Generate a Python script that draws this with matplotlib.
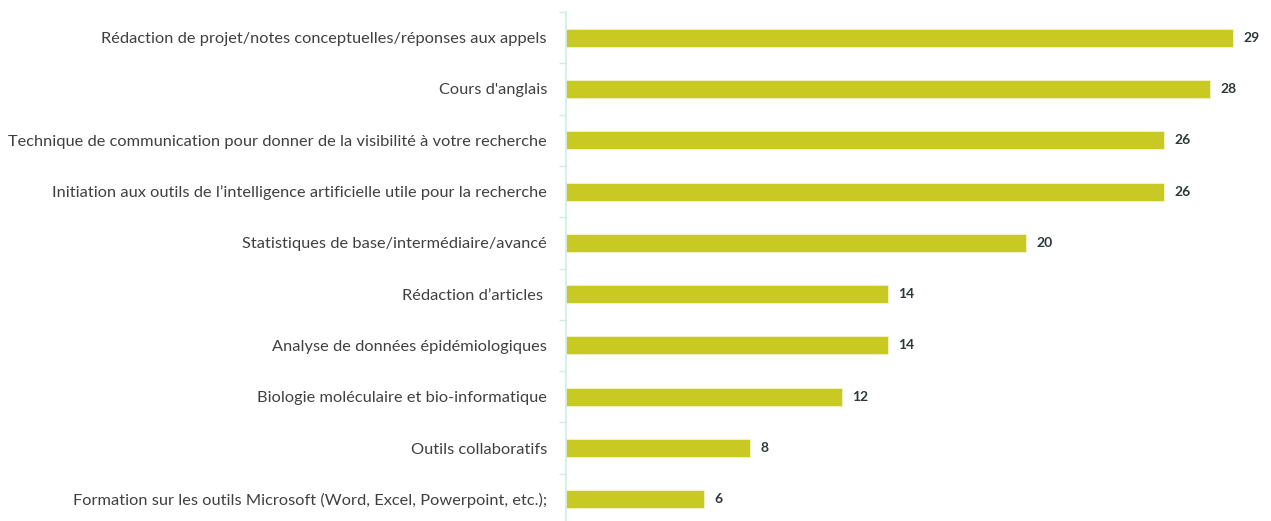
import numpy as np
import matplotlib.pyplot as plt
from matplotlib.ticker import FixedLocator

# données (de haut en bas)
categories = [
    "Rédaction de projet/notes conceptuelles/réponses aux appels",
    "Cours d'anglais",
    "Technique de communication pour donner de la visibilité à votre recherche",
    "Initiation aux outils de l’intelligence artificielle utile pour la recherche",
    "Statistiques de base/intermédiaire/avancé",
    "Rédaction d’articles ",
    "Analyse de données épidémiologiques",
    "Biologie moléculaire et bio-informatique",
    "Outils collaboratifs",
    "Formation sur les outils Microsoft (Word, Excel, Powerpoint, etc.);",
]
values = [29, 28, 26, 26, 20, 14, 14, 12, 8, 6]

BAR_COLOR = '#C8C923'
AXIS_COLOR = '#CDEDE5'
TEXT_COLOR = '#404040'

plt.rcParams['font.family'] = ['Lato', 'DejaVu Sans']

fig = plt.figure(figsize=(12.71, 5.21), dpi=100)
W, H = 1271, 521
# axe vertical à x=566 px, 23 px par unité
ax = fig.add_axes([566 / W, 1 - 525 / H, 690 / W, 513 / H])

y = np.arange(len(categories))
ax.barh(y, values, height=0.35, color=BAR_COLOR, edgecolor='#F2F4C8', linewidth=0.6)

ax.set_xlim(0, 30)
ax.set_ylim(len(categories) - 0.5, -0.5)

for yi, v in zip(y, values):
    ax.text(v + 0.45, yi, str(v), va='center', ha='left', fontsize=10,
            fontweight='bold', color='#2F3838')

ax.set_yticks(y)
ax.set_yticklabels(categories, fontsize=11.8, color=TEXT_COLOR)
ax.tick_params(axis='y', which='major', length=0, pad=13.7)
ax.yaxis.set_minor_locator(FixedLocator(np.arange(-0.5, len(categories), 1.0)))
ax.tick_params(axis='y', which='minor', length=5, color=AXIS_COLOR, width=1)

ax.set_xticks([])
for s in ['top', 'right', 'bottom']:
    ax.spines[s].set_visible(False)
ax.spines['left'].set_color(AXIS_COLOR)
ax.spines['left'].set_linewidth(1.2)

fig.savefig('out.png', dpi=100)
